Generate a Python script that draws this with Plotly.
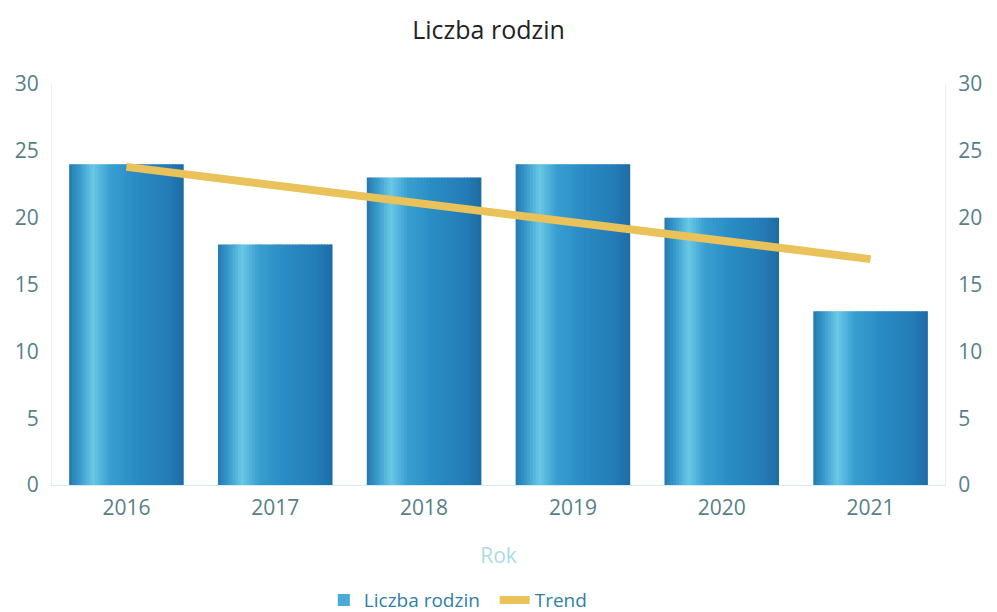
import plotly.graph_objects as go

years = ["2016", "2017", "2018", "2019", "2020", "2021"]
families = [24, 18, 23, 24, 20, 13]
trend = [23.8, 22.4, 21.0, 19.6, 18.3, 16.9]
y_ticks = [0, 5, 10, 15, 20, 25, 30]

# horizontal gradient stops for the cylinder-like bars
stops = [(0.0, (38, 122, 176)), (0.08, (52, 150, 200)), (0.21, (106, 200, 230)),
         (0.36, (56, 158, 208)), (0.58, (42, 140, 196)), (0.86, (36, 124, 182)),
         (1.0, (30, 108, 166))]

def grad(t):
    for (a, ca), (b, cb) in zip(stops[:-1], stops[1:]):
        if a <= t <= b:
            f = (t - a) / (b - a)
            c = [round(ca[i] + (cb[i] - ca[i]) * f) for i in range(3)]
            return "rgb(%d,%d,%d)" % tuple(c)
    return "rgb(%d,%d,%d)" % stops[-1][1]

fig = go.Figure()
bar_w = 0.77
n = 40
sw = bar_w / n
for i in range(n):
    t = (i + 0.5) / n
    fig.add_trace(go.Bar(
        x=years, y=families, width=sw * 1.3 if i < n - 1 else sw,
        offset=-bar_w / 2 + i * sw,
        marker=dict(color=grad(t), line=dict(width=0)),
        name="Liczba rodzin\u00a0\u00a0", showlegend=(i == 12), legendgroup="bars",
        hoverinfo="skip" if i != n // 2 else None,
    ))

fig.add_trace(go.Scatter(
    x=years, y=trend, mode="lines", name="Trend",
    line=dict(color="#e9c25a", width=8), yaxis="y2",
))

tick_font = dict(family="Open Sans", size=21, color="#567f88")
fig.update_layout(
    width=997, height=612,
    margin=dict(l=52, r=52, t=84, b=127, autoexpand=False),
    paper_bgcolor="white", plot_bgcolor="white",
    barmode="overlay",
    title=dict(text="Liczba rodzin", x=0.49, xanchor="center", y=0.951, yanchor="middle",
               font=dict(family="Open Sans", size=25, color="#222222")),
    xaxis=dict(tickfont=tick_font, showgrid=False, showline=True, automargin=False,
               linecolor="#cdeef2", linewidth=1, ticks="", ticklabelstandoff=4,
               title=dict(text="Rok", font=dict(family="Open Sans", size=21, color="#a9dde6"),
                          standoff=28)),
    yaxis=dict(range=[0, 30], tickvals=y_ticks, tickfont=tick_font, showgrid=False,
               zeroline=False, showline=True, linecolor="#eeeeee", linewidth=1,
               ticks="", ticklabelstandoff=8, automargin=False),
    yaxis2=dict(range=[0, 30], tickvals=y_ticks, tickfont=tick_font, showgrid=False,
                zeroline=False, showline=True, linecolor="#eeeeee", linewidth=1,
                overlaying="y", side="right", ticks="", ticklabelstandoff=8,
                automargin=False),
    legend=dict(orientation="h", x=0.455, xanchor="center", y=-0.287, yanchor="middle",
                font=dict(family="Open Sans", size=19, color="#2f7fa6"),
                itemwidth=30, traceorder="normal"),
    showlegend=True,
)

fig.write_html("out.html", config={"displayModeBar": False},
               post_script="document.body.style.margin='0';document.body.style.overflow='hidden';")
